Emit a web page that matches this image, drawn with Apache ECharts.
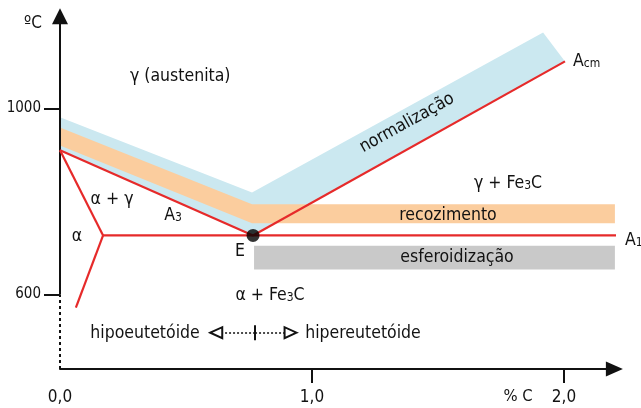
<!DOCTYPE html>
<html><head><meta charset="utf-8">
<script src="https://cdn.jsdelivr.net/npm/echarts@6/dist/echarts.min.js"></script>
<style>html,body{margin:0;padding:0;background:#fff}#c{width:641px;height:408px}</style>
</head><body><div id="c"></div>
<script>
// ---- Data (x: % C, y: °C) ----
const xTickValues = [1, 2];
const xLabelValues = [0, 1, 2];
const yTickValues = [600, 1000];
const eutectoidPoint = [[0.766, 727]];
const lineA3 = [[0, 910], [0.766, 727]];
const lineAcm = [[0.766, 727], [2.004, 1101]];
const lineA1 = [[0.171, 727], [2.222, 727]];
const alphaUpper = [[0, 910], [0.171, 727]];
const alphaLower = [[0.171, 727], [0.063, 572]];
const bandNormalizacao = [[0, 981], [0.762, 819], [1.917, 1163], [2.004, 1101], [0.766, 727], [0, 910]];
const bandRecozimento = [[0, 959], [0.762, 794], [2.202, 794], [2.202, 753], [0.762, 753], [0, 920]];
const bandEsferoidizacao = [[0.77, 705], [2.202, 705], [2.202, 654], [0.77, 654]];
const yAxisSolid = [[0, 600], [0, 1198]];
const yAxisDashed = [[0, 440], [0, 600]];
const hipoArrow = [[0.774, 518], [0.62, 518]];
const hiperArrow = [[0.774, 518], [0.915, 518]];
const dividerBar = [[0.774, 502], [0.774, 534]];

const RED = '#e62a2a';
const INK = '#121212';
const FONT = '"DejaVu Sans Condensed", "DejaVu Sans"';

function bandSeries(poly, color) {
  return {
    type: 'custom', silent: true, z: 1,
    data: [[poly[0][0], poly[0][1]]],
    renderItem: function (params, api) {
      return {
        type: 'polygon',
        shape: { points: poly.map(p => api.coord(p)) },
        style: { fill: color }
      };
    }
  };
}
function redLine(pts) {
  return {
    type: 'line', data: pts, symbol: 'none', clip: false, silent: true, z: 5,
    lineStyle: { color: RED, width: 2.2 }
  };
}
function txt(x, y, text, opts) {
  opts = opts || {};
  return {
    type: 'text', x: x, y: y, rotation: opts.rotation || 0, z: 100,
    style: Object.assign({
      text: text, fill: INK, font: (opts.size || 17.5) + 'px ' + FONT,
      textAlign: opts.align || 'center', textVerticalAlign: 'middle'
    }, opts.rich ? { rich: opts.rich } : {})
  };
}
const subRich = {
  n: { fontSize: 17.5, fontFamily: FONT, fill: INK, color: INK, lineHeight: 20, verticalAlign: 'bottom' },
  s: { fontSize: 12, fontFamily: FONT, fill: INK, color: INK, lineHeight: 14, verticalAlign: 'bottom' }
};
const axisInk = { color: '#111', width: 2 };

const chart = echarts.init(document.getElementById('c'), null, { renderer: 'canvas' });
chart.setOption({
  animation: false,
  backgroundColor: '#fff',
  grid: { left: 60, right: 26.6, top: 6, bottom: 39 },
  xAxis: {
    type: 'value', min: 0, max: 2.2,
    axisLine: { show: true, lineStyle: axisInk, symbol: ['none', 'triangle'], symbolSize: [15, 17] },
    axisTick: { show: true, customValues: xTickValues, length: 14, lineStyle: axisInk },
    axisLabel: { customValues: xLabelValues, margin: 20, fontSize: 17, fontFamily: FONT, color: INK,
      formatter: v => v.toFixed(1).replace('.', ',') },
    splitLine: { show: false }
  },
  yAxis: {
    type: 'value', min: 440, max: 1220,
    axisLine: { show: true, lineStyle: { color: 'rgba(0,0,0,0)', width: 0 } },
    axisTick: { show: true, customValues: yTickValues, length: 16, lineStyle: axisInk },
    axisLabel: { customValues: yTickValues, margin: 19, fontSize: 15, fontFamily: FONT, color: INK,
      formatter: v => String(v) },
    splitLine: { show: false }
  },
  series: [
    bandSeries(bandNormalizacao, '#cbe8f0'),
    bandSeries(bandRecozimento, '#fbcd9e'),
    bandSeries(bandEsferoidizacao, '#c9c9c9'),
    redLine(lineA3), redLine(lineAcm), redLine(lineA1), redLine(alphaUpper), redLine(alphaLower),
    {
      type: 'scatter', data: eutectoidPoint, symbolSize: 13, z: 10, silent: true,
      itemStyle: { color: '#000' }
    },
    {
      type: 'line', data: [], silent: true, z: 20,
      markLine: {
        silent: true, animation: false, label: { show: false }, emphasis: { disabled: true },
        data: [
          [{ coord: yAxisSolid[0], symbol: 'none', lineStyle: { color: '#111', width: 2, type: 'solid' } },
           { coord: yAxisSolid[1], symbol: 'triangle', symbolSize: 16 }],
          [{ coord: yAxisDashed[0], symbol: 'none', lineStyle: { color: '#111', width: 2, type: [3, 3] } },
           { coord: yAxisDashed[1], symbol: 'none' }],
          [{ coord: hipoArrow[0], symbol: 'none', lineStyle: { color: INK, width: 1.5, type: [2, 2] } },
           { coord: hipoArrow[1], symbol: 'emptyTriangle', symbolSize: [11, 12] }],
          [{ coord: hiperArrow[0], symbol: 'none', lineStyle: { color: INK, width: 1.5, type: [2, 2] } },
           { coord: hiperArrow[1], symbol: 'emptyTriangle', symbolSize: [11, 12] }],
          [{ coord: dividerBar[0], symbol: 'none', lineStyle: { color: INK, width: 2, type: 'solid' } },
           { coord: dividerBar[1], symbol: 'none' }]
        ]
      }
    }
  ],
  graphic: [
    txt(33, 24, 'ºC', { size: 17 }),
    txt(130, 76, 'γ (austenita)', { align: 'left' }),
    txt(112, 199, 'α + γ'),
    txt(173, 214, '{n|A}{s|3}', { rich: subRich }),
    txt(77, 236, 'α'),
    txt(240, 251, 'E'),
    txt(270, 294, '{n|α + Fe}{s|3}{n|C}', { rich: subRich }),
    txt(508, 182, '{n|γ + Fe}{s|3}{n|C}', { rich: subRich }),
    txt(448, 215, 'recozimento'),
    txt(457, 257, 'esferoidização'),
    txt(625, 239, '{n|A}{s|1}', { align: 'left', rich: subRich }),
    txt(573, 60, '{n|A}{s|cm}', { align: 'left', rich: subRich }),
    txt(407, 123, 'normalização', { rotation: 29 * Math.PI / 180 }),
    txt(145, 333, 'hipoeutetóide'),
    txt(363, 333, 'hipereutetóide'),
    txt(518, 397, '% C', { size: 16.5 })
  ]
});
</script></body></html>
